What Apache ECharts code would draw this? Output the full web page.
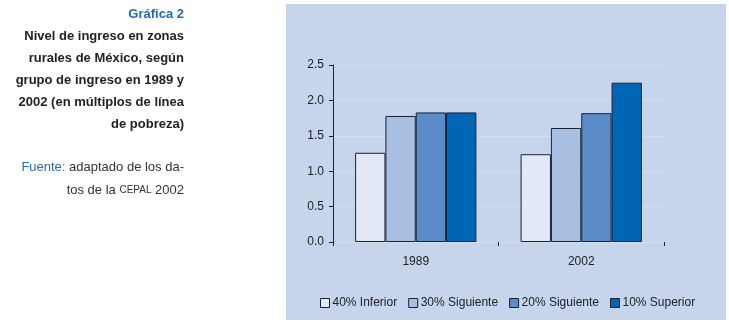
<!DOCTYPE html>
<html>
<head>
<meta charset="utf-8">
<script src="https://cdn.jsdelivr.net/npm/echarts@6/dist/echarts.min.js"></script>
<style>
  html, body { margin: 0; padding: 0; background: #fff; }
  #chart { width: 729px; height: 328px; }
</style>
</head>
<body>
<div id="chart"></div>
<script>
// datos
var years = ["1989", "2002"];
var groupNames = ["40% Inferior", "30% Siguiente", "20% Siguiente", "10% Superior"];
var inferior40 = [1.26, 1.24];
var siguiente30 = [1.78, 1.61];
var siguiente20 = [1.83, 1.82];
var superior10 = [1.83, 2.25];
var yTicks = [0, 0.5, 1.0, 1.5, 2.0, 2.5];

var barColors = ["#e2e8f5", "#a9bfe2", "#5b8bc9", "#0066b3"];
var seriesValues = [inferior40, siguiente30, siguiente20, superior10];

var chart = echarts.init(document.getElementById("chart"), null, { renderer: "canvas" });

var titleLines = [
  "Nivel de ingreso en zonas",
  "rurales de México, según",
  "grupo de ingreso en 1989 y",
  "2002 (en múltiplos de línea",
  "de pobreza)"
];

var graphics = [
  {
    type: "rect",
    z: -10,
    shape: { x: 286, y: 4, width: 440, height: 316 },
    style: { fill: "#c6d4ec" }
  },
  {
    type: "text",
    x: 184, y: 14,
    style: {
      text: "Gráfica 2",
      fill: "#1f6bb3",
      font: "bold 13px 'Liberation Sans', Arial, sans-serif",
      align: "right", verticalAlign: "middle"
    }
  }
];
titleLines.forEach(function (t, i) {
  graphics.push({
    type: "text",
    x: 184, y: 36 + i * 22,
    style: {
      text: t,
      fill: "#222222",
      font: "bold 13px 'Liberation Sans', Arial, sans-serif",
      align: "right", verticalAlign: "middle"
    }
  });
});
graphics.push({
  type: "text",
  x: 184, y: 167,
  style: {
    text: "{b|Fuente:} adaptado de los da-",
    font: "13px 'Liberation Sans', Arial, sans-serif",
    fill: "#333333",
    align: "right", verticalAlign: "middle",
    rich: { b: { fill: "#2a6db5", font: "13px 'Liberation Sans', Arial, sans-serif" } }
  }
});
graphics.push({
  type: "text",
  x: 184, y: 190,
  style: {
    text: "tos de la {s|CEPAL} 2002",
    font: "13px 'Liberation Sans', Arial, sans-serif",
    fill: "#333333",
    align: "right", verticalAlign: "middle",
    rich: { s: { fill: "#333333", font: "10px 'Liberation Sans', Arial, sans-serif" } }
  }
});

var series = seriesValues.map(function (vals, i) {
  return {
    name: groupNames[i],
    type: "bar",
    data: vals,
    barGap: "0%",
    barCategoryGap: "26.7%",
    itemStyle: { color: barColors[i], borderColor: "#1b2233", borderWidth: 1 }
  };
});

var option = {
  animation: false,
  graphic: graphics,
  grid: { left: 333, right: 65, top: 65, bottom: 86 },
  legend: {
    data: groupNames,
    left: 315,
    top: 292,
    icon: "rect",
    itemWidth: 9,
    itemHeight: 9,
    itemGap: 11,
    textStyle: { fontFamily: "'Liberation Sans', Arial, sans-serif", fontSize: 12, color: "#222", padding: [0, 0, 0, -2] },
    itemStyle: { borderColor: "#1b2233", borderWidth: 1 }
  },
  xAxis: {
    type: "category",
    data: years,
    axisLine: { show: false },
    axisTick: { show: true, length: 4, lineStyle: { color: "#1b2233" } },
    axisLabel: { margin: 14, color: "#222", fontSize: 12, fontFamily: "'Liberation Sans', Arial, sans-serif" }
  },
  yAxis: {
    type: "value",
    min: yTicks[0],
    max: yTicks[yTicks.length - 1],
    interval: 0.5,
    axisLine: { show: true, lineStyle: { color: "#1b2233" } },
    axisTick: { show: true, length: 4, lineStyle: { color: "#1b2233" } },
    splitLine: { show: true, lineStyle: { color: "#d6deee", width: 1 } },
    axisLabel: {
      margin: 9,
      color: "#222", fontSize: 12, fontFamily: "'Liberation Sans', Arial, sans-serif",
      formatter: function (v) { return v.toFixed(1); }
    }
  },
  series: series
};

chart.setOption(option);
</script>
</body>
</html>
